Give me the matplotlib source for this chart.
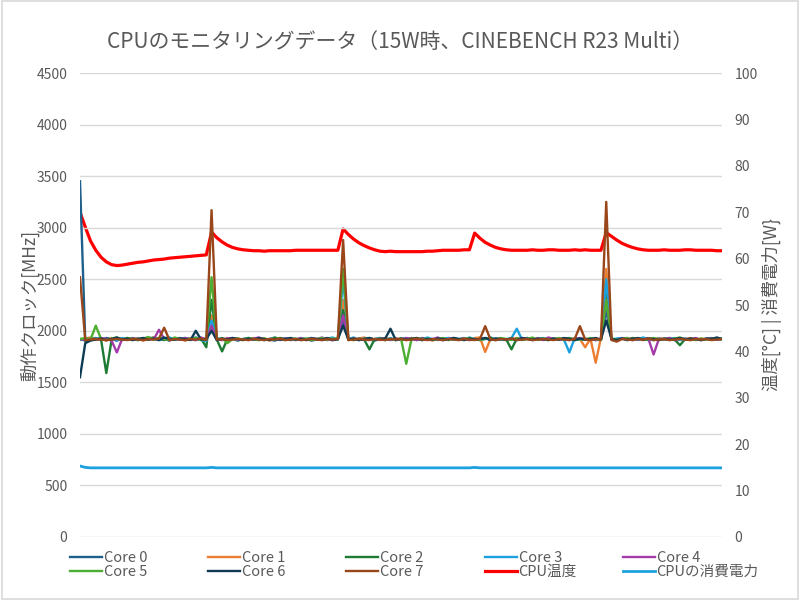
import matplotlib
matplotlib.use("Agg")
import matplotlib.pyplot as plt
from matplotlib.patches import Rectangle

plt.rcParams['font.family'] = ['Noto Sans CJK JP', 'DejaVu Sans']

# data ---------------------------------------------------------------- #
core0 = [3450, 1900, 1915, 1925, 1910, 1930, 1920, 1905, 1925, 1915,
         1930, 1920, 1910, 1925, 1935, 1915, 1920, 1905, 1925, 1930,
         1910, 1920, 1935, 1915, 1925, 2050, 1910, 1925, 1915, 1920,
         1905, 1920, 1915, 1925, 1910, 1920, 1915, 1905, 1920, 1925,
         1910, 1915, 1925, 1920, 1905, 1915, 1925, 1920, 1910, 1920,
         2100, 1915, 1920, 1910, 1925, 1915, 1905, 1920, 1915, 1925,
         1910, 1920, 1915, 1930, 1920, 1910, 1925, 1915, 1920, 1910,
         1925, 1915, 1920, 1930, 1915, 1925, 1910, 1920, 1935, 1915,
         1920, 1910, 1925, 1915, 1920, 1930, 1910, 1920, 1915, 1925,
         1915, 1920, 1910, 1925, 1920, 1915, 1925, 1910, 1920, 1915,
         2200, 1920, 1915, 1925, 1910, 1920, 1915, 1930, 1920, 1910,
         1925, 1915, 1920, 1910, 1925, 1920, 1915, 1925, 1910, 1920,
         1915, 1925, 1920]
core1 = [1910, 1925, 1935, 1915, 1920, 1905, 1930, 1920, 1910, 1925,
         1915, 1930, 1905, 1920, 1935, 1910, 1925, 1915, 1930, 1920,
         1905, 1925, 1915, 1930, 1910, 2150, 1920, 1910, 1930, 1915,
         1925, 1910, 1920, 1930, 1915, 1925, 1905, 1920, 1930, 1915,
         1920, 1910, 1925, 1915, 1930, 1920, 1910, 1925, 1915, 1930,
         2300, 1920, 1910, 1925, 1935, 1915, 1920, 1910, 1930, 1915,
         1925, 1920, 1910, 1930, 1915, 1925, 1920, 1905, 1925, 1915,
         1930, 1920, 1910, 1925, 1915, 1930, 1935, 1795, 1920, 1915,
         1925, 1910, 1920, 1930, 1915, 1920, 1910, 1925, 1915, 1930,
         1920, 1915, 1925, 1910, 1930, 1920, 1840, 1925, 1690, 1935,
         2600, 1920, 1910, 1925, 1915, 1930, 1920, 1910, 1925, 1915,
         1930, 1920, 1910, 1925, 1915, 1920, 1930, 1910, 1925, 1915,
         1920, 1930, 1915]
core2 = [1920, 1905, 1920, 1930, 1915, 1590, 1910, 1925, 1915, 1930,
         1920, 1910, 1925, 1915, 1930, 1920, 1910, 1925, 1915, 1920,
         1930, 1915, 1910, 1925, 1840, 2300, 1915, 1800, 1920, 1925,
         1910, 1920, 1930, 1915, 1925, 1910, 1920, 1915, 1930, 1920,
         1915, 1925, 1910, 1920, 1930, 1915, 1920, 1910, 1925, 1915,
         2200, 1920, 1910, 1925, 1915, 1820, 1920, 1930, 1915, 1925,
         1910, 1920, 1915, 1925, 1910, 1930, 1920, 1915, 1925, 1910,
         1920, 1930, 1915, 1925, 1910, 1920, 1915, 1925, 1930, 1910,
         1920, 1915, 1820, 1925, 1910, 1930, 1920, 1915, 1925, 1910,
         1920, 1915, 1925, 1930, 1910, 1920, 1915, 1925, 1910, 1920,
         2400, 1915, 1920, 1925, 1910, 1930, 1915, 1920, 1910, 1925,
         1915, 1920, 1930, 1915, 1860, 1920, 1910, 1925, 1915, 1920,
         1930, 1915, 1920]
core3 = [1915, 1920, 1910, 1925, 1930, 1915, 1920, 1905, 1930, 1920,
         1910, 1925, 1915, 1930, 1920, 1910, 1925, 1935, 1915, 1920,
         1930, 1915, 1920, 1910, 1900, 2100, 1930, 1915, 1920, 1925,
         1910, 1920, 1930, 1915, 1925, 1910, 1920, 1935, 1915, 1925,
         1920, 1910, 1930, 1915, 1925, 1920, 1910, 1925, 1935, 1915,
         2500, 1920, 1935, 1910, 1925, 1915, 1920, 1930, 1910, 1925,
         1915, 1920, 1930, 1910, 1925, 1915, 1935, 1920, 1910, 1925,
         1930, 1915, 1920, 1910, 1935, 1920, 1915, 1930, 1910, 1925,
         1915, 1920, 1930, 2020, 1915, 1925, 1910, 1920, 1930, 1915,
         1925, 1920, 1910, 1790, 1930, 1920, 1915, 1925, 1910, 1920,
         2500, 1915, 1925, 1930, 1910, 1920, 1915, 1935, 1920, 1910,
         1925, 1915, 1920, 1930, 1910, 1925, 1915, 1920, 1910, 1925,
         1920, 1915, 1925]
core4 = [1920, 1910, 1925, 1915, 1930, 1920, 1905, 1790, 1920, 1915,
         1925, 1910, 1930, 1920, 1915, 2010, 1920, 1910, 1925, 1915,
         1930, 1920, 1910, 1935, 1915, 2050, 1920, 1910, 1925, 1930,
         1915, 1920, 1910, 1925, 1935, 1915, 1920, 1930, 1910, 1925,
         1920, 1915, 1930, 1910, 1925, 1920, 1935, 1915, 1910, 1925,
         2150, 1915, 1925, 1920, 1910, 1930, 1915, 1925, 1920, 1910,
         1925, 1915, 1930, 1920, 1910, 1925, 1915, 1920, 1935, 1910,
         1920, 1930, 1915, 1925, 1910, 1920, 1915, 1930, 1920, 1910,
         1925, 1915, 1920, 1910, 1930, 1920, 1915, 1925, 1910, 1935,
         1920, 1915, 1925, 1910, 1920, 1930, 1915, 1920, 1910, 1925,
         2300, 1920, 1915, 1925, 1930, 1910, 1920, 1915, 1925, 1770,
         1920, 1915, 1930, 1910, 1925, 1920, 1915, 1930, 1910, 1920,
         1925, 1915, 1920]
core5 = [1920, 1930, 1915, 2050, 1920, 1910, 1925, 1935, 1915, 1930,
         1920, 1910, 1925, 1940, 1915, 1930, 1920, 1910, 1935, 1920,
         1915, 1925, 1930, 1910, 1920, 2520, 1915, 1930, 1880, 1920,
         1925, 1915, 1930, 1920, 1910, 1925, 1915, 1935, 1920, 1910,
         1930, 1915, 1920, 1925, 1910, 1920, 1930, 1915, 1925, 1920,
         2600, 1910, 1925, 1915, 1920, 1930, 1915, 1925, 1910, 1920,
         1915, 1925, 1680, 1920, 1930, 1910, 1925, 1915, 1920, 1930,
         1910, 1925, 1915, 1920, 1930, 1915, 1910, 1925, 1920, 1915,
         1930, 1920, 1910, 1925, 1915, 1920, 1935, 1910, 1925, 1915,
         1920, 1930, 1915, 1925, 1910, 1920, 1915, 1930, 1920, 1910,
         2300, 1925, 1915, 1920, 1930, 1910, 1925, 1915, 1920, 1930,
         1915, 1920, 1910, 1925, 1935, 1915, 1920, 1910, 1925, 1915,
         1920, 1930, 1915]
core6 = [1550, 1880, 1905, 1915, 1925, 1910, 1920, 1935, 1915, 1925,
         1910, 1920, 1930, 1915, 1925, 1910, 1935, 1920, 1915, 1925,
         1920, 1910, 2000, 1915, 1920, 2000, 1910, 1925, 1915, 1930,
         1920, 1910, 1925, 1915, 1930, 1920, 1910, 1925, 1915, 1920,
         1930, 1915, 1920, 1910, 1925, 1920, 1915, 1930, 1910, 1920,
         2050, 1915, 1925, 1910, 1920, 1930, 1915, 1920, 1925, 2020,
         1910, 1925, 1915, 1920, 1930, 1910, 1920, 1915, 1925, 1920,
         1915, 1930, 1920, 1910, 1925, 1915, 1920, 1930, 1910, 1925,
         1920, 1915, 1925, 1910, 1930, 1920, 1915, 1925, 1920, 1910,
         1925, 1915, 1930, 1920, 1910, 1925, 1915, 1920, 1930, 1915,
         2100, 1920, 1910, 1925, 1915, 1920, 1930, 1915, 1925, 1920,
         1910, 1925, 1915, 1920, 1930, 1915, 1925, 1920, 1910, 1925,
         1920, 1935, 1920]
core7 = [2520, 1910, 1915, 1920, 1915, 1910, 1915, 1920, 1915, 1910,
         1920, 1915, 1910, 1920, 1915, 1925, 2030, 1910, 1920, 1915,
         1910, 1920, 1915, 1925, 1910, 3170, 1915, 1920, 1910, 1915,
         1920, 1915, 1910, 1920, 1915, 1910, 1920, 1915, 1925, 1910,
         1915, 1920, 1910, 1915, 1920, 1915, 1910, 1920, 1915, 1920,
         2880, 1910, 1915, 1920, 1915, 1910, 1920, 1915, 1910, 1920,
         1915, 1920, 1910, 1915, 1925, 1915, 1910, 1920, 1915, 1910,
         1920, 1915, 1910, 1920, 1915, 1910, 1920, 2045, 1915, 1910,
         1920, 1915, 1925, 1910, 1915, 1920, 1910, 1915, 1920, 1915,
         1910, 1920, 1915, 1910, 1920, 2045, 1915, 1910, 1920, 1915,
         3250, 1910, 1895, 1920, 1915, 1910, 1920, 1915, 1925, 1910,
         1915, 1920, 1910, 1915, 1920, 1915, 1910, 1920, 1915, 1920,
         1910, 1915, 1920]
cpu_temp = [70.0, 66.8, 63.8, 61.8, 60.3, 59.3, 58.7, 58.5, 58.6, 58.8,
            59.0, 59.2, 59.3, 59.5, 59.7, 59.8, 59.9, 60.1, 60.2, 60.3,
            60.4, 60.5, 60.6, 60.7, 60.8, 65.7, 64.5, 63.6, 62.9, 62.4,
            62.1, 61.9, 61.8, 61.7, 61.7, 61.6, 61.7, 61.7, 61.7, 61.7,
            61.7, 61.8, 61.8, 61.8, 61.8, 61.8, 61.8, 61.8, 61.8, 61.8,
            66.4, 65.2, 64.2, 63.4, 62.8, 62.3, 61.9, 61.6, 61.5, 61.6,
            61.5, 61.5, 61.5, 61.5, 61.5, 61.5, 61.6, 61.6, 61.7, 61.8,
            61.8, 61.8, 61.8, 61.9, 61.9, 65.5, 64.4, 63.5, 62.9, 62.4,
            62.1, 61.9, 61.8, 61.8, 61.8, 61.8, 61.9, 61.8, 61.8, 61.9,
            61.9, 61.8, 61.8, 61.8, 61.9, 61.8, 61.9, 61.8, 61.8, 61.8,
            65.6, 64.8, 64.0, 63.3, 62.8, 62.4, 62.1, 61.9, 61.8, 61.8,
            61.8, 61.9, 61.8, 61.8, 61.8, 61.9, 61.9, 61.8, 61.8, 61.8,
            61.8, 61.7, 61.7]
cpu_power = [15.3, 15.0, 14.9, 14.9, 14.9, 14.9, 14.9, 14.9, 14.9, 14.9,
             14.9, 14.9, 14.9, 14.9, 14.9, 14.9, 14.9, 14.9, 14.9, 14.9,
             14.9, 14.9, 14.9, 14.9, 14.9, 15.0, 14.9, 14.9, 14.9, 14.9,
             14.9, 14.9, 14.9, 14.9, 14.9, 14.9, 14.9, 14.9, 14.9, 14.9,
             14.9, 14.9, 14.9, 14.9, 14.9, 14.9, 14.9, 14.9, 14.9, 14.9,
             14.9, 14.9, 14.9, 14.9, 14.9, 14.9, 14.9, 14.9, 14.9, 14.9,
             14.9, 14.9, 14.9, 14.9, 14.9, 14.9, 14.9, 14.9, 14.9, 14.9,
             14.9, 14.9, 14.9, 14.9, 14.9, 15.0, 14.9, 14.9, 14.9, 14.9,
             14.9, 14.9, 14.9, 14.9, 14.9, 14.9, 14.9, 14.9, 14.9, 14.9,
             14.9, 14.9, 14.9, 14.9, 14.9, 14.9, 14.9, 14.9, 14.9, 14.9,
             14.9, 14.9, 14.9, 14.9, 14.9, 14.9, 14.9, 14.9, 14.9, 14.9,
             14.9, 14.9, 14.9, 14.9, 14.9, 14.9, 14.9, 14.9, 14.9, 14.9,
             14.9, 14.9, 14.9]

core_names = ["Core 0", "Core 1", "Core 2", "Core 3", "Core 4",
              "Core 5", "Core 6", "Core 7"]
core_colors = ["#1f5f8b", "#ed7d31", "#1e7b34", "#1ca1de", "#a33ca9",
               "#4daf32", "#0d3b54", "#99461a"]
cores = [core0, core1, core2, core3, core4, core5, core6, core7]
# --------------------------------------------------------------------- #

gray = "#595959"
fig = plt.figure(figsize=(8, 6), dpi=100)
ax = fig.add_axes([0.1, 0.105, 0.8025, 0.7733])
ax2 = ax.twinx()

x = list(range(len(core0)))
handles = []
for name, col, vals in zip(core_names, core_colors, cores):
    h, = ax.plot(x, vals, color=col, lw=1.7, label=name)
    handles.append(h)

t_line, = ax2.plot(x, cpu_temp, color="#ff0000", lw=2.3, label="CPU温度")
p_line, = ax2.plot(x, cpu_power, color="#1ca1de", lw=2.0, label="CPUの消費電力")

# cores over the temperature line
ax.set_zorder(ax2.get_zorder() + 1)
ax.patch.set_visible(False)

ax.set_xlim(0, len(core0) - 1)
ax.set_ylim(0, 4500)
ax.set_yticks(range(0, 4501, 500))
ax2.set_ylim(0, 100)
ax2.set_yticks(range(0, 101, 10))
ax.set_xticks([])

ax.grid(axis="y", color="#d9d9d9", lw=1)
ax.set_axisbelow(True)
for a in (ax, ax2):
    for s in a.spines.values():
        s.set_visible(False)
    a.tick_params(axis="y", length=0, labelsize=10, labelcolor=gray, pad=9)

ax.set_ylabel("動作クロック[MHz]", fontsize=12.5, color=gray, labelpad=-2)
ax2.set_ylabel("温度[°C] | 消費電力[W}", fontsize=12.5, color=gray, labelpad=3)

fig.text(0.5, 0.93, "CPUのモニタリングデータ（15W時、CINEBENCH R23 Multi）",
         ha="center", va="center", fontsize=15, color=gray)

# legend: 5 columns, equally spaced like the original
all_h = handles + [t_line, p_line]
col_x = [70, 208, 346, 485, 623]
for c, px in enumerate(col_x):
    pair = [all_h[c], all_h[c + 5]]
    leg = fig.legend(pair, [h.get_label() for h in pair],
                     loc="upper left", bbox_to_anchor=(px / 800, 1 - 551 / 600),
                     frameon=False, fontsize=10.5, handlelength=2.2,
                     handletextpad=0.1, labelspacing=0.0, borderpad=0,
                     borderaxespad=0)
    for txt in leg.get_texts():
        txt.set_color(gray)

fig.patches.append(Rectangle((0.002, 0.002), 0.996, 0.996, transform=fig.transFigure,
                             fill=False, edgecolor="#d9d9d9", lw=1.2))

fig.savefig("out.png", dpi=100)
